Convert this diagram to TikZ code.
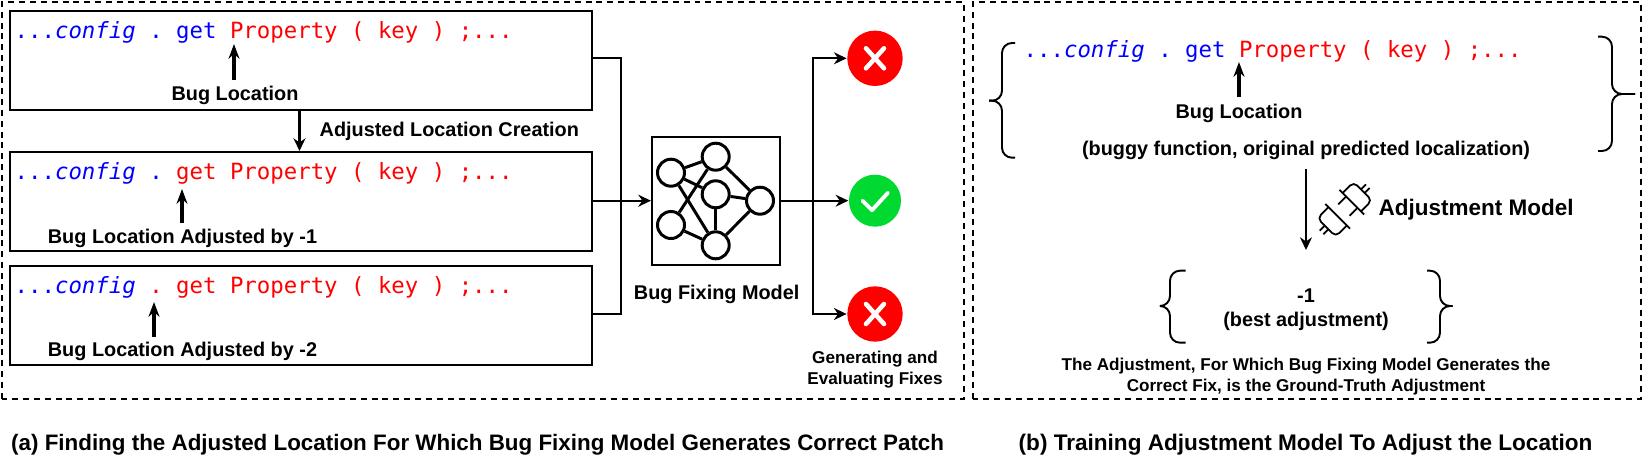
\documentclass[tikz,border=0pt]{standalone}
\usepackage{fontspec}
\setmainfont{Liberation Sans}
\setmonofont{DejaVu Sans Mono}
\usepackage{tikz}
\usetikzlibrary{arrows.meta}
\definecolor{okgreen}{HTML}{00D92F}
\newcommand{\codefont}{\fontsize{6.36}{7.8}\selectfont\ttfamily}
\newcommand{\curlybrace}[6]{%
  \draw[curly] (#1,#4) -- (#2,#4) -- (#2,#5) -- (#3,#5);
  \draw[curly] (#1,#6) -- (#2,#6) -- (#2,#5) -- (#3,#5);}
\tikzset{
  panel/.style={draw, line width=0.55pt, dash pattern=on 1.7pt off 1.4pt},
  codebox/.style={draw, line width=0.6pt, inner sep=0pt, minimum width=5.82cm, minimum height=0.99cm, anchor=north west},
  codeline/.style={anchor=base west, inner sep=0pt, font=\codefont},
  lbl/.style={font=\fontsize{5.65}{6.8}\selectfont\bfseries, inner sep=0pt, align=center},
  lblsmall/.style={font=\fontsize{4.87}{6}\selectfont\bfseries, inner sep=0pt, align=center},
  caption/.style={font=\fontsize{6.37}{7}\selectfont\bfseries, inner sep=0pt, anchor=base west},
  flow/.style={line width=0.62pt, -{Stealth[length=3.6pt,width=3.4pt]}},
  pointer/.style={line width=1pt, -{Stealth[length=4.2pt,width=3.1pt]}},
  plainflow/.style={line width=0.62pt},
  neuron/.style={circle, draw, line width=0.85pt, minimum size=0.27cm, inner sep=0pt},
  synapse/.style={line width=0.85pt},
  badmark/.style={circle, fill=red, minimum size=0.554cm, inner sep=0pt},
  goodmark/.style={circle, fill=okgreen, minimum size=0.52cm, inner sep=0pt},
  curly/.style={line width=0.55pt, rounded corners=0.1cm},
  plugline/.style={line width=0.5pt, line join=round}
}
\begin{document}
\begin{tikzpicture}
  \useasboundingbox (0,0) rectangle (16.44,4.70);
  \fill[white] (0,0) rectangle (16.44,4.70);

  % panels
  \draw[panel] (0.02,0.71) rectangle (9.64,4.68);
  \draw[panel] (9.73,0.71) rectangle (16.41,4.68);

  % code boxes
  \node[codebox] (box1) at (0.09,4.605) {};
  \node[codebox] (box2) at (0.09,3.19) {};
  \node[codebox] (box3) at (0.09,2.05) {};

  \node[codeline] (code1) at (0.14,4.32) {\color{blue}...\textit{config} . get \color{red}Property ( key ) ;...};
  \node[codeline] (code2) at (0.14,2.90) {\color{blue}...\textit{config} . \color{red}get Property ( key ) ;...};
  \node[codeline] (code3) at (0.14,1.765) {\color{blue}...\textit{config} \color{red}. get Property ( key ) ;...};

  \node[lbl] (loc1) at (2.35,3.745) {Bug Location};
  \node[lbl] (loc2) at (1.825,2.32) {Bug Location Adjusted by -1};
  \node[lbl] (loc3) at (1.825,1.19) {Bug Location Adjusted by -2};

  \coordinate (tip1) at (2.34,4.26);
  \coordinate (tip2) at (1.82,2.81);
  \coordinate (tip3) at (1.54,1.68);
  \coordinate (tail1) at (2.34,3.90);
  \coordinate (tail2) at (1.82,2.47);
  \coordinate (tail3) at (1.54,1.33);
  \draw[pointer] (tail1) -- (tip1);
  \draw[pointer] (tail2) -- (tip2);
  \draw[pointer] (tail3) -- (tip3);

  \coordinate (top1) at (2.995,3.613);
  \coordinate (top2) at (2.995,3.19);
  \draw[flow] (top1) -- (top2);
  \node[lbl, anchor=west] (adjust) at (3.19,3.39) {Adjusted Location Creation};

  % bug fixing model
  \node[draw, line width=0.6pt, minimum size=1.28cm, inner sep=0pt] (model) at (7.16,2.693) {};
  \node[lbl] (modelname) at (7.167,1.76) {Bug Fixing Model};

  \node[neuron] (n1) at (6.71,2.973) {};
  \node[neuron] (n2) at (7.157,3.133) {};
  \node[neuron] (n3) at (7.157,2.757) {};
  \node[neuron] (n4) at (7.60,2.693) {};
  \node[neuron] (n5) at (6.71,2.45) {};
  \node[neuron] (n6) at (7.157,2.247) {};
  \foreach \a/\b in {n1/n2,n1/n3,n1/n6,n2/n4,n2/n5,n3/n4,n3/n6,n4/n6,n5/n6}
    \draw[synapse] (\a) -- (\b);

  \coordinate (merge) at (6.21,2.693);
  \draw[plainflow] (box1.east |- 0,4.12) -- (6.21,4.12) -- (6.21,1.56) -- (box3.east |- 0,1.56);
  \draw[flow] (box2.east |- merge) -- (model.west);

  % results
  \node[badmark] (bad1) at (8.75,4.117) {};
  \node[goodmark] (good) at (8.75,2.693) {};
  \node[badmark] (bad2) at (8.75,1.56) {};
  \foreach \m in {bad1,bad2}
    \draw[white, line width=1.3pt, line cap=round] ([shift={(-0.09,0.10)}]\m.center) -- ([shift={(0.09,-0.10)}]\m.center)
      ([shift={(0.09,0.10)}]\m.center) -- ([shift={(-0.09,-0.10)}]\m.center);
  \draw[white, line width=1.1pt, line cap=round, line join=round] ([shift={(-0.125,0)}]good.center) -- ([shift={(-0.03,-0.095)}]good.center) -- ([shift={(0.13,0.08)}]good.center);

  \coordinate (split) at (8.13,2.693);
  \draw[plainflow] (model.east) -- (split);
  \draw[flow] (split) |- (bad1);
  \draw[flow] (split) -- (good);
  \draw[flow] (split) |- (bad2);
  \node[lblsmall] (evalname) at (8.75,1.00) {Generating and\\Evaluating Fixes};

  % adjustment model panel
  \node[codeline] (code4) at (10.23,4.12) {\color{blue}...\textit{config} . get \color{red}Property ( key ) ;...};
  \node[lbl] (loc4) at (12.39,3.57) {Bug Location};
  \node[lbl] (input) at (13.06,3.20) {(buggy function, original predicted localization)};
  \coordinate (tip4) at (12.39,4.08);
  \coordinate (tail4) at (12.39,3.733);
  \draw[pointer] (tail4) -- (tip4);
  \curlybrace{10.15}{10.02}{9.89}{4.27}{3.693}{3.123}
  \curlybrace{15.98}{16.12}{16.35}{4.333}{3.76}{3.19}

  \coordinate (down1) at (13.06,3.01);
  \coordinate (down2) at (13.06,2.20);
  \draw[flow] (down1) -- (down2);

  % plug icon
  \foreach \rot in {45,225} {
    \begin{scope}[shift={(13.447,2.607)}, rotate=\rot, plugline, x=0.01cm, y=0.01cm]
      \draw (10,-17.5) -- (10,17.5);
      \draw[rounded corners=0.05cm] (10,-13) -- (25.7,-13) -- (25.7,13) -- (10,13);
      \draw (25.7,2.5) -- (32.7,2.5) (25.7,-2.5) -- (32.7,-2.5);
    \end{scope}
  }
  \begin{scope}[shift={(13.447,2.607)}, rotate=45, plugline, x=0.01cm, y=0.01cm]
    \draw (10,8) -- (-1,8) (10,-8) -- (-1,-8);
  \end{scope}
  \node[lbl, anchor=west, font=\fontsize{6.4}{7.7}\selectfont\bfseries] (adjmodel) at (13.78,2.60) {Adjustment Model};

  \node[lbl] (best) at (13.06,1.60) {-1\\(best adjustment)};
  \curlybrace{11.856}{11.70}{11.60}{1.993}{1.64}{1.273}
  \curlybrace{14.27}{14.40}{14.527}{1.993}{1.64}{1.273}
  \node[lblsmall] (truth) at (13.06,0.93) {The Adjustment, For Which Bug Fixing Model Generates the\\Correct Fix, is the Ground-Truth Adjustment};

  % captions
  \node[caption] (capa) at (0.105,0.20) {(a) Finding the Adjusted Location For Which Bug Fixing Model Generates Correct Patch};
  \node[caption, font=\fontsize{6.42}{7}\selectfont\bfseries] (capb) at (10.18,0.20) {(b) Training Adjustment Model To Adjust the Location};
\end{tikzpicture}
\end{document}
